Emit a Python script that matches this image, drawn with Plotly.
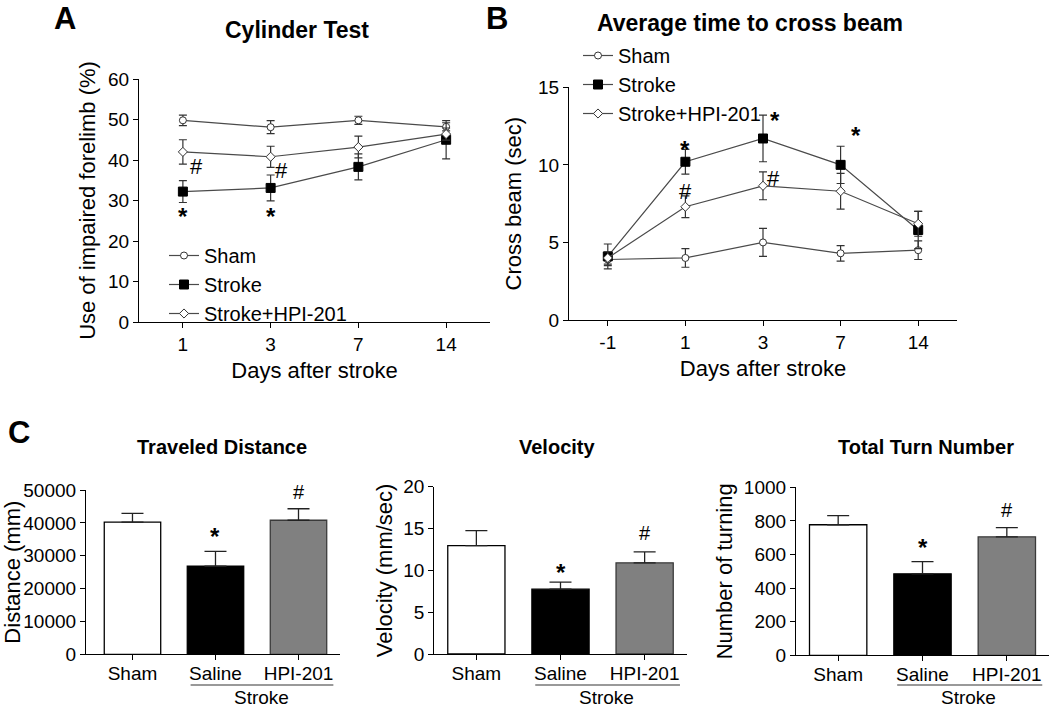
import plotly.graph_objects as go

W, H = 1050, 709
def px(x): return x / W
def py(y): return 1 - y / H

FONT = "Arial, Liberation Sans, sans-serif"

# ---- Panel A: Cylinder test ----
days_A = ["1", "3", "7", "14"]
sham_A = [49.8, 48.1, 49.8, 48.2]
sham_A_err = [1.3, 1.6, 1.0, 1.0]
stroke_A = [32.2, 33.1, 38.3, 45.0]
stroke_A_err = [2.7, 3.2, 3.2, 4.7]
hpi_A = [42.0, 40.8, 43.2, 46.4]
hpi_A_err = [3.0, 2.6, 2.7, 1.5]

# ---- Panel B: Beam crossing ----
days_B = ["-1", "1", "3", "7", "14"]
sham_B = [3.9, 4.0, 5.0, 4.3, 4.5]
sham_B_err = [0.4, 0.6, 0.9, 0.5, 0.6]
stroke_B = [4.1, 10.2, 11.7, 10.0, 5.8]
stroke_B_err = [0.8, 0.8, 1.5, 1.2, 1.2]
hpi_B = [4.0, 7.3, 8.65, 8.3, 6.2]
hpi_B_err = [0.4, 0.7, 0.9, 1.15, 0.8]

# ---- Panel C: Open field ----
groups_C = ["Sham", "Saline", "HPI-201"]
distance = [40200, 26800, 40800]
distance_err = [2700, 4500, 3500]
velocity = [12.95, 7.75, 10.9]
velocity_err = [1.8, 0.85, 1.3]
turns = [777, 485, 705]
turns_err = [54, 72, 55]

line_col = "#4a4a4a"
sham_style = dict(symbol="circle", size=7, color="white", line=dict(color="#333", width=1))
stroke_style = dict(symbol="square", size=9, color="black", line=dict(color="black", width=1))
hpi_style = dict(symbol="diamond", size=7, color="white", line=dict(color="#333", width=1))

fig = go.Figure()

def add_line(x, y, err, name, marker, xa, ya, leg):
    fig.add_trace(go.Scatter(
        x=x, y=y, name=name, mode="lines+markers",
        line=dict(color=line_col, width=1.2), marker=marker,
        error_y=dict(type="data", array=err, visible=True, color="#333", thickness=1.2, width=4),
        xaxis=xa, yaxis=ya, legend=leg))

add_line(days_A, sham_A, sham_A_err, "Sham", sham_style, "x", "y", "legend")
add_line(days_A, stroke_A, stroke_A_err, "Stroke", stroke_style, "x", "y", "legend")
add_line(days_A, hpi_A, hpi_A_err, "Stroke+HPI-201", hpi_style, "x", "y", "legend")
add_line(days_B, sham_B, sham_B_err, "Sham", sham_style, "x2", "y2", "legend2")
add_line(days_B, stroke_B, stroke_B_err, "Stroke", stroke_style, "x2", "y2", "legend2")
add_line(days_B, hpi_B, hpi_B_err, "Stroke+HPI-201", hpi_style, "x2", "y2", "legend2")

bar_fill = ["white", "black", "#808080"]
bar_line = ["black", "black", "#3a3a3a"]
for vals, errs, xa, ya in [(distance, distance_err, "x3", "y3"),
                           (velocity, velocity_err, "x4", "y4"),
                           (turns, turns_err, "x5", "y5")]:
    fig.add_trace(go.Bar(
        x=groups_C, y=vals, width=0.68, showlegend=False,
        marker=dict(color=bar_fill, line=dict(color=bar_line, width=1.3)),
        error_y=dict(type="data", array=errs, arrayminus=[0, 0, 0], symmetric=False,
                     visible=True, color="#222", thickness=1.3, width=11),
        xaxis=xa, yaxis=ya))

tickfont = dict(family=FONT, size=19, color="black")
titlefont = dict(family=FONT, size=22, color="black")
common = dict(showgrid=False, zeroline=False, showline=True, linecolor="black",
              linewidth=1.2, ticks="outside", ticklen=5, tickwidth=1.2, automargin=True,
              tickcolor="black", tickfont=tickfont)

fig.update_layout(
    template="none",
    width=W, height=H, paper_bgcolor="white", plot_bgcolor="white",
    margin=dict(l=0, r=0, t=0, b=0, autoexpand=False), bargap=0.3,
    font=dict(family=FONT, color="black"),
    xaxis=dict(domain=[px(139), px(490)], type="category", range=[-0.5, 3.5], anchor="y",
               title=dict(text="Days after stroke", font=titlefont, standoff=8), **common),
    yaxis=dict(domain=[py(322), py(79)], range=[0, 60], dtick=10, anchor="x",
               title=dict(text="Use of impaired forelimb (%)", font=titlefont, standoff=6), **common),
    xaxis2=dict(domain=[px(569), px(957)], type="category", range=[-0.5, 4.5], anchor="y2",
                title=dict(text="Days after stroke", font=titlefont, standoff=8), **common),
    yaxis2=dict(domain=[py(320), py(87.3)], range=[0, 15], dtick=5, anchor="x2",
                title=dict(text="Cross beam (sec)", font=titlefont, standoff=10), **common),
    xaxis3=dict(domain=[px(86), px(340)], type="category", range=[-0.56, 2.5], anchor="y3",
                ticklabelstandoff=-3, **common),
    yaxis3=dict(domain=[py(654.3), py(490)], range=[0, 50000], dtick=10000, tickformat="d",
                anchor="x3", title=dict(text="Distance (mm)", font=titlefont, standoff=0), **common),
    xaxis4=dict(domain=[px(434.3), px(686.7)], type="category", range=[-0.5, 2.5], anchor="y4",
                ticklabelstandoff=-3, **common),
    yaxis4=dict(domain=[py(654), py(486.7)], range=[0, 20], dtick=5, anchor="x4",
                title=dict(text="Velocity (mm/sec)", font=titlefont, standoff=4), **common),
    xaxis5=dict(domain=[px(796), px(1049)], type="category", range=[-0.5, 2.5], anchor="y5",
                ticklabelstandoff=-3, **common),
    yaxis5=dict(domain=[py(655.3), py(487.3)], range=[0, 1000], dtick=200, anchor="x5",
                title=dict(text="Number of turning", font=titlefont, standoff=5), **common),
    legend=dict(x=px(164), y=py(236), xanchor="left", yanchor="top",
                font=dict(family=FONT, size=20, color="black"), bgcolor="rgba(0,0,0,0)",
                tracegroupgap=0, itemwidth=30),
    legend2=dict(x=px(578), y=py(36), xanchor="left", yanchor="top",
                 font=dict(family=FONT, size=20, color="black"), bgcolor="rgba(0,0,0,0)",
                 tracegroupgap=0, itemwidth=30),
)

ann = []
def text(x, y, s, size, bold=False, xref="paper", yref="paper", **kw):
    ann.append(dict(x=x, y=y, xref=xref, yref=yref, text=f"<b>{s}</b>" if bold else s,
                    xanchor="center", yanchor="middle", showarrow=False,
                    font=dict(family=FONT, size=size, color="black"), **kw))

# panel letters and titles
text(px(65), py(19), "A", 31, True)
text(px(497), py(19), "B", 31, True)
text(px(19), py(432), "C", 31, True)
text(px(297), py(30), "Cylinder Test", 23, True)
text(px(750), py(23), "Average time to cross beam", 23, True)
text(px(222), py(447), "Traveled Distance", 20, True)
text(px(557), py(447), "Velocity", 20, True)
text(px(926), py(447), "Total Turn Number", 20, True)

# significance marks, panel A
text(0.15, 38.3, "#", 22, xref="x", yref="y")
text(1.12, 37.3, "#", 22, xref="x", yref="y")
text(0, 26.0, "*", 24, True, xref="x", yref="y")
text(1, 26.0, "*", 24, True, xref="x", yref="y")
# panel B
text(1, 11.0, "*", 24, True, xref="x2", yref="y2")
text(1, 8.3, "#", 22, xref="x2", yref="y2")
text(2.15, 12.85, "*", 24, True, xref="x2", yref="y2")
text(2.14, 9.15, "#", 22, xref="x2", yref="y2")
text(3.2, 11.9, "*", 24, True, xref="x2", yref="y2")
# panel C
text(1, 36000, "*", 24, True, xref="x3", yref="y3")
text(2, 49500, "#", 20, xref="x3", yref="y3")
text(1, 9.7, "*", 24, True, xref="x4", yref="y4")
text(2, 14.5, "#", 20, xref="x4", yref="y4")
text(1, 640, "*", 24, True, xref="x5", yref="y5")
text(2, 865, "#", 20, xref="x5", yref="y5")

shapes = []
for xa in ["x3", "x4", "x5"]:
    shapes.append(dict(type="line", xref=xa, yref="paper", x0=0.7, x1=2.42,
                       y0=py(685), y1=py(685), line=dict(color="#777", width=1.3)))
    text(1.55, py(697), "Stroke", 19, xref=xa)

fig.update_layout(annotations=ann, shapes=shapes)
fig.write_html("out.html", config={"displayModeBar": False},
               post_script="document.body.style.margin='0px';")
